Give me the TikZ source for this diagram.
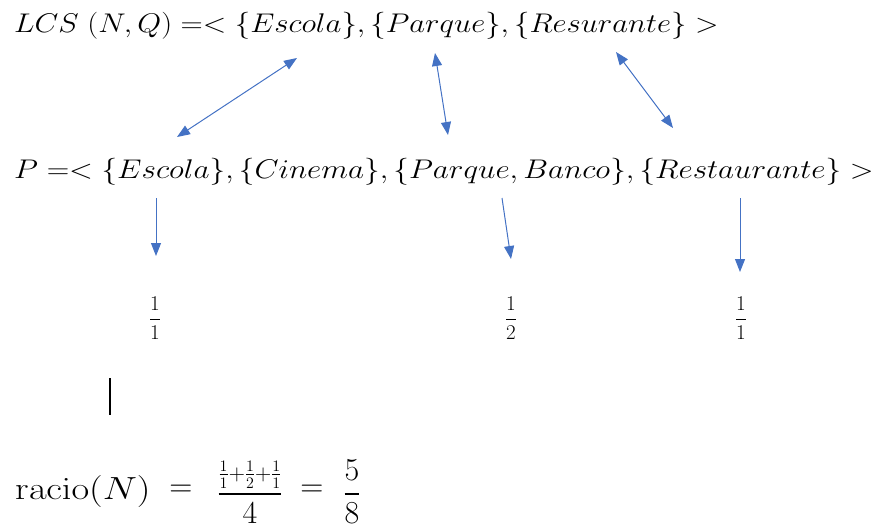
\RequirePackage{fix-cm}
\documentclass[tikz,border=0pt]{standalone}
\usepackage{amsmath, amssymb}
\usetikzlibrary{arrows.meta}

\definecolor{linkblue}{RGB}{68,114,196}

\begin{document}
\begin{tikzpicture}[x=1pt, y=-1pt, >={Triangle[length=13pt,width=10pt]},
        link/.style={linkblue, line width=1pt},
        seq/.style={anchor=base west, inner sep=0, font=\fontsize{27}{30}\selectfont}]
        % Parameters
        \def\fracFont{\fontsize{21}{24}\selectfont}
        \def\sumFont{\fontsize{32}{36}\selectfont}

        \useasboundingbox (0,0) rectangle (877,530);

        % Sequences
        \node[seq] (lcs) at (14,32)
            {\scalebox{1.14}[1]{$LCS\;(N,Q) =<\{Escola\},\{Parque\},\{Resurante\}>$}};
        \node[seq] (seqP) at (14,178)
            {\scalebox{1.155}[1]{$P =<\{Escola\},\{Cinema\},\{Parque,Banco\},\{Restaurante\}>$}};

        % Matching ends
        \coordinate (lcsA) at (297,58);
        \coordinate (lcsB) at (435,53);
        \coordinate (lcsC) at (616,52);
        \coordinate (pA) at (177,137);
        \coordinate (pB) at (448,135);
        \coordinate (pC) at (673,128);

        \draw[<->, link] (lcsA) -- (pA);
        \draw[<->, link] (lcsB) -- (pB);
        \draw[<->, link] (lcsC) -- (pC);

        % Partial ratios
        \node[font=\fracFont] (rA) at (155,318) {$\dfrac{1}{1}$};
        \node[font=\fracFont] (rB) at (511,318) {$\dfrac{1}{2}$};
        \node[font=\fracFont] (rC) at (741,318) {$\dfrac{1}{1}$};

        \coordinate (dA) at (156,198);
        \coordinate (dB) at (502,198);
        \coordinate (dC) at (740,198);
        \coordinate (eA) at (156,256);
        \coordinate (eB) at (511,259);
        \coordinate (eC) at (740,272);

        \draw[->, link] (dA) -- (eA);
        \draw[->, link] (dB) -- (eB);
        \draw[->, link] (dC) -- (eC);

        % Stray bar
        \draw[line width=1.4pt] (110,378) -- (110,415);

        % Final ratio
        \node[anchor=base west, inner sep=0, font=\sumFont] (racio) at (15,499)
            {\scalebox{1.2}[1]{$\mathrm{racio}(N)$}};
        \node[anchor=base, inner sep=0, font=\sumFont] (eqA) at (181,496) {$=$};
        \node[anchor=base, inner sep=0, font=\sumFont] (sumFrac) at (250,502)
            {$\dfrac{\scriptstyle\frac{1}{1}+\frac{1}{2}+\frac{1}{1}}{4}$};
        \node[anchor=base, inner sep=0, font=\sumFont] (eqB) at (312,496) {$=$};
        \node[anchor=base, inner sep=0, font=\sumFont] (res) at (352,502) {$\dfrac{5}{8}$};
\end{tikzpicture}
\end{document}
